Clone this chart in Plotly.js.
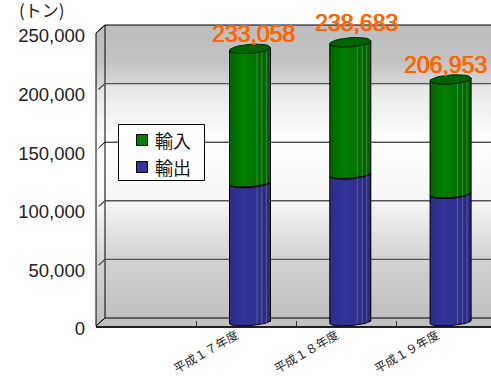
<!DOCTYPE html>
<html>
<head>
<meta charset="utf-8">
<script src="https://cdn.plot.ly/plotly-3.0.1.min.js"></script>
<style>html,body{margin:0;padding:0;background:#fff;overflow:hidden}</style>
</head>
<body>
<div id="chart" style="width:491px;height:376px"></div>
<script>
// Categories (the first slot of the axis is left empty)
const categories = [" ", "平成１７年度", "平成１８年度", "平成１９年度"];
const years = ["平成１７年度", "平成１８年度", "平成１９年度"];

// Series values in tons
const exportsTons = [118500, 125800, 109200];
const importsTons = [114558, 112883, 97753];

const yTicks = [0, 50000, 100000, 150000, 200000, 250000];
const unitLabel = "(トン)";
const importName = "輸入";
const exportName = "輸出";

// Page and scale geometry, in pixels
const W = 491, H = 376;
const CAT_PX = 100.3;            // width of one category
const VAL_PX = 293 / 250000;     // pixels per ton
const FRONT = {x: 96, y: 326};   // origin of the front plane
const DEPTH = {x: 9, y: 8};      // offset of the back wall from the front plane
const BAR_W = 41;

const latin = "Liberation Sans, Arial, sans-serif";
const cjk = "Noto Sans CJK JP, sans-serif";

// An axis spanning the whole page whose origin sits at a given pixel
const fullX = ox => [-0.5 - ox / CAT_PX, -0.5 + (W - ox) / CAT_PX];
const fullY = oy => [-(H - oy) / VAL_PX, oy / VAL_PX];
const fullBarX = cx => [1 - cx / CAT_PX, 1 + (W - cx) / CAT_PX];

const hiddenAxis = {visible: false, fixedrange: true};
const px = v => v / CAT_PX, py = v => v / VAL_PX;

// Wall colours from top to bottom
const wallScale = [
  [0, "#bdbdbd"], [0.12, "#c2c2c2"], [0.2, "#d6d6d6"], [0.21, "#e6e6e6"],
  [0.4, "#ffffff"], [0.6, "#f6f6f6"], [0.8, "#d2d2d2"], [1, "#bfbfbf"]
];
// Plotly's vertical gradient runs bottom to top
const flip = s => s.map(([t, c]) => [1 - t, c]).reverse();

const traces = [];
const backLeft = -0.5, xEnd = -0.5 + (W - (FRONT.x + DEPTH.x)) / CAT_PX;
const yMax = 250000;

// Back wall, side wall, floor
traces.push({
  x: [backLeft, xEnd, xEnd, backLeft, backLeft], y: [0, 0, yMax, yMax, 0],
  xaxis: "x", yaxis: "y", mode: "none", fill: "toself",
  fillgradient: {type: "vertical", colorscale: flip(wallScale)},
  hoverinfo: "skip", showlegend: false
});
traces.push({
  x: [backLeft, backLeft, backLeft - px(DEPTH.x), backLeft - px(DEPTH.x), backLeft],
  y: [0, yMax, yMax - py(DEPTH.y), -py(DEPTH.y), 0],
  xaxis: "x", yaxis: "y", mode: "lines", fill: "toself",
  line: {color: "#000", width: 1},
  fillgradient: {type: "vertical", colorscale: flip(wallScale)},
  hoverinfo: "skip", showlegend: false
});
traces.push({
  x: [backLeft, xEnd + 1, xEnd + 1, backLeft - px(DEPTH.x), backLeft],
  y: [0, 0, -py(DEPTH.y), -py(DEPTH.y), 0],
  xaxis: "x", yaxis: "y", mode: "none", fill: "toself", fillcolor: "#c0c0c0",
  hoverinfo: "skip", showlegend: false
});

// Gridlines on the back wall plus their slanted run over the side wall
const softTicks = [50000, 100000, 200000];
const softGrid = {x: [], y: []}, hardGrid = {x: [], y: []};
yTicks.forEach(v => {
  const run = v === 0 ? 1 : 0.72;
  const g = softTicks.includes(v) ? softGrid : hardGrid;
  g.x.push(xEnd, backLeft, backLeft - px(DEPTH.x * run), null);
  g.y.push(v, v, v - py(DEPTH.y * run), null);
});
traces.push({x: softGrid.x, y: softGrid.y, xaxis: "x", yaxis: "y", mode: "lines",
  line: {color: "#555", width: 1.4}, hoverinfo: "skip", showlegend: false});
traces.push({x: hardGrid.x, y: hardGrid.y, xaxis: "x", yaxis: "y", mode: "lines",
  line: {color: "#000", width: 1}, hoverinfo: "skip", showlegend: false});

// Carries the visible front axes
traces.push({x: categories, y: categories.map(() => 0), xaxis: "x2", yaxis: "y2",
  mode: "none", hoverinfo: "skip", showlegend: false});

// The stacked bars themselves, placed by category index on a hidden linear axis
const barX = years.map((_, n) => n + 1);
traces.push({type: "bar", name: exportName, x: barX, y: exportsTons, xaxis: "x3", yaxis: "y3",
  marker: {color: "#333399"}, showlegend: false});
traces.push({type: "bar", name: importName, x: barX, y: importsTons, xaxis: "x3", yaxis: "y3",
  marker: {color: "#008000"}, showlegend: false});

// Elliptical arc around a bar centre; the ellipse leans up to the right
function arc(i, value, from, to, ry) {
  const rx = BAR_W / 2, lean = 1.5, pts = [];
  for (let k = 0; k <= 24; k++) {
    const t = from + (to - from) * k / 24;
    pts.push([i + px(rx * Math.cos(t)), value - py(ry * Math.sin(t) - lean * Math.cos(t))]);
  }
  return pts;
}

const greenShade = [[0, "#006400"], [0.35, "#008000"], [0.7, "#007000"], [1, "#006000"]];
const blueShade = [[0, "#2c2c88"], [0.35, "#333399"], [0.7, "#2f2f8c"], [1, "#29297c"]];
const streaks = [0.67, 0.79, 0.9];

function body(i, low, high, shade) {
  const pts = arc(i, low, Math.PI, 0, 3.6).concat(arc(i, high, 0, Math.PI, 4.5));
  pts.push(pts[0]);
  traces.push({
    x: pts.map(p => p[0]), y: pts.map(p => p[1]), xaxis: "x3", yaxis: "y3",
    mode: "lines", fill: "toself", line: {color: "#000", width: 1},
    fillgradient: {type: "horizontal", colorscale: shade},
    hoverinfo: "skip", showlegend: false
  });
}

years.forEach((_, n) => {
  const i = n + 1, e = exportsTons[n], total = e + importsTons[n];
  body(i, 0, e, blueShade);
  body(i, e, total, greenShade);

  // Thin highlights running down the cylinder
  const sx = [], sy = [];
  streaks.forEach(f => {
    const x = i + px((f - 0.5) * BAR_W);
    sx.push(x, x, null);
    sy.push(-py(2), total - py(3), null);
  });
  traces.push({x: sx, y: sy, xaxis: "x3", yaxis: "y3", mode: "lines",
    line: {color: "rgba(255,255,255,0.22)", width: 1}, hoverinfo: "skip", showlegend: false});

  // Top cap
  const cap = arc(i, total, 0, 2 * Math.PI, 4.5);
  traces.push({x: cap.map(p => p[0]), y: cap.map(p => p[1]), xaxis: "x3", yaxis: "y3",
    mode: "lines", fill: "toself", fillcolor: "#006400", line: {color: "#002c00", width: 1},
    hoverinfo: "skip", showlegend: false});
});

// Total labels over each cylinder
const labelShiftX = [3, 6.5, -5.5];
const labelShiftY = [0, 4.5, -0.5];
const annotations = years.map((_, n) => ({
  x: n + 1, y: exportsTons[n] + importsTons[n], xref: "x3", yref: "y3",
  text: (exportsTons[n] + importsTons[n]).toLocaleString("en-US"),
  showarrow: false, xanchor: "center", yanchor: "bottom",
  xshift: labelShiftX[n], yshift: labelShiftY[n],
  font: {family: latin, size: 23, color: "#ff6600",
         shadow: "0.6px 0 0 #ff6600, -0.3px 0 0 #ff6600"}
}));

const paperX = v => v / W, paperY = v => 1 - v / H;

annotations.push({
  x: paperX(17), y: paperY(24), xref: "paper", yref: "paper", xanchor: "left", yanchor: "bottom",
  text: unitLabel, showarrow: false, font: {family: cjk, size: 17, color: "#222"}
});

// Hand-placed key inside the plot
const legendRows = [[importName, "#008000", 140], [exportName, "#333399", 167]];
const shapes = [{
  type: "rect", xref: "paper", yref: "paper",
  x0: paperX(118.5), x1: paperX(204.5), y0: paperY(124.5), y1: paperY(180.5),
  fillcolor: "#fff", line: {color: "#000", width: 1}
}];
legendRows.forEach(([name, color, cy]) => {
  shapes.push({
    type: "rect", xref: "paper", yref: "paper",
    x0: paperX(136.5), x1: paperX(147.5), y0: paperY(cy - 5.5), y1: paperY(cy + 5.5),
    fillcolor: color, line: {color: "#000", width: 1}
  });
  annotations.push({
    x: paperX(153), y: paperY(cy), xref: "paper", yref: "paper", xanchor: "left", yanchor: "middle",
    text: name, showarrow: false, font: {family: cjk, size: 18, color: "#111"}
  });
});

const layout = {
  width: W, height: H, margin: {l: 0, r: 0, t: 0, b: 0},
  paper_bgcolor: "#fff", plot_bgcolor: "rgba(0,0,0,0)",
  barmode: "stack", bargap: 1 - BAR_W / CAT_PX,
  showlegend: false, hovermode: false,
  // Wall coordinates: origin on the back wall's lower-left corner
  xaxis: Object.assign({domain: [0, 1], range: fullX(FRONT.x + DEPTH.x)}, hiddenAxis),
  yaxis: Object.assign({domain: [0, 1], range: fullY(FRONT.y - DEPTH.y)}, hiddenAxis),
  // Front plane: the axes that are read
  xaxis2: {
    domain: [FRONT.x / W, 1], range: [-0.5, -0.5 + (W - FRONT.x) / CAT_PX],
    type: "category", categoryorder: "array", categoryarray: categories,
    tickson: "boundaries", ticks: "inside", ticklen: 5, tickcolor: "#333", tickwidth: 1,
    showline: true, linecolor: "#222", linewidth: 2, showgrid: false, zeroline: false,
    tickangle: -30, tickfont: {family: cjk, size: 12, color: "#222"},
    ticklabelshift: -10, ticklabelstandoff: -4,
    anchor: "y2", fixedrange: true
  },
  yaxis2: {
    domain: [(H - FRONT.y) / H, (H - FRONT.y + 293) / H], range: [0, 250000],
    tickmode: "array", tickvals: yTicks, tickformat: ",d",
    ticks: "", ticklabelstandoff: 10, ticklabelshift: 3,
    showline: false, showgrid: false, zeroline: false,
    tickfont: {family: latin, size: 18.5, color: "#222"},
    anchor: "x2", fixedrange: true
  },
  // Cylinders sit halfway into the depth of the plot
  xaxis3: Object.assign({domain: [0, 1], range: fullBarX(FRONT.x + 154), type: "linear"}, hiddenAxis),
  yaxis3: Object.assign({domain: [0, 1], range: fullY(FRONT.y - DEPTH.y / 2)}, hiddenAxis),
  shapes, annotations
};

Plotly.newPlot("chart", traces, layout, {displayModeBar: false, staticPlot: true});
</script>
</body>
</html>
